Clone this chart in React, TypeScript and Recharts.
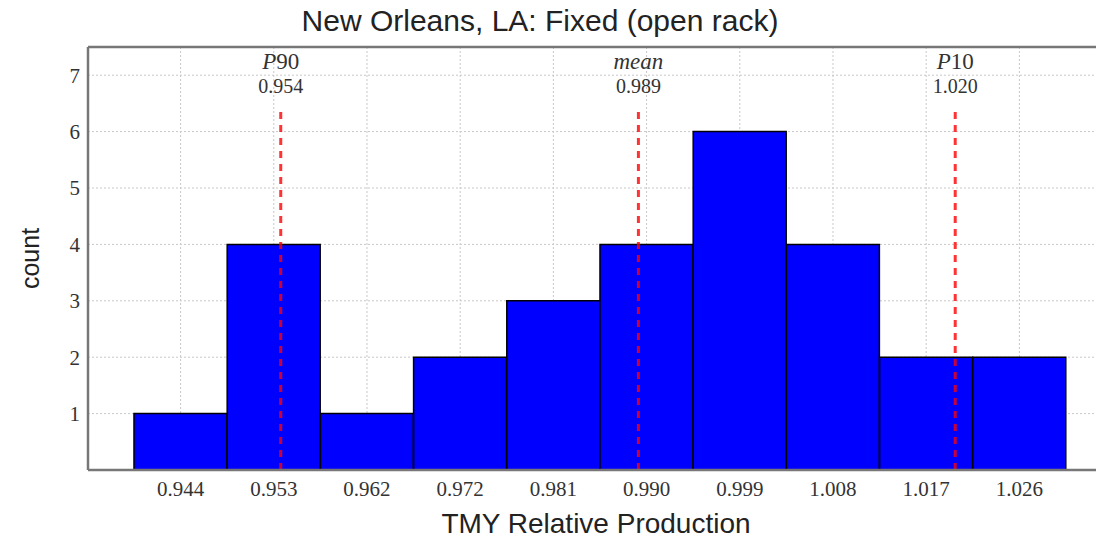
import React from "react";
import {
  ComposedChart,
  Bar,
  XAxis,
  YAxis,
  CartesianGrid,
  ReferenceLine,
  Label,
} from "recharts";

// histogram of TMY relative production, one entry per bin (bin centres)
const binCenters = [
  0.9442, 0.95332, 0.96244, 0.97156, 0.98068,
  0.9898, 0.99892, 1.00804, 1.01716, 1.02628,
];
const counts = [1, 4, 1, 2, 3, 4, 6, 4, 2, 2];
const yTicks = [1, 2, 3, 4, 5, 6, 7];

// P90 / mean / P10 markers
const markerNames = ["P90", "mean", "P10"];
const markerValues = [0.954, 0.989, 1.02];
const markerTop = 6.4;

// value range spanned by the plot area
const valueDomain: [number, number] = [0.93514, 1.03456];

const data = binCenters.map((center, i) => ({ center, count: counts[i] }));

const serif = "'Liberation Serif', 'DejaVu Serif', serif";
const sans = "'Liberation Sans', Arial, sans-serif";

function MarkerLabel({ viewBox, name, value }: any) {
  const x = viewBox.x + (viewBox.width || 0) / 2;
  const y = viewBox.y;
  return (
    <g fontFamily={serif} fill="#333" textAnchor="middle">
      <text x={x} y={y - 40} fontSize={23}>
        {name === "mean" ? (
          <tspan fontStyle="italic">mean</tspan>
        ) : (
          <>
            <tspan fontStyle="italic">{name[0]}</tspan>
            <tspan>{name.slice(1)}</tspan>
          </>
        )}
      </text>
      <text x={x} y={y - 16} fontSize={20}>
        {value.toFixed(3)}
      </text>
    </g>
  );
}

export default function App() {
  return (
    <div style={{ position: "relative", width: 1096, height: 531 }}>
      <div
        style={{
          position: "absolute",
          left: 0,
          top: -7,
          width: 1064,
          textAlign: "center",
          fontFamily: sans,
          fontSize: 30,
          color: "#222",
          lineHeight: "40px",
        }}
      >
        New Orleans, LA: Fixed (open rack)
      </div>
      <ComposedChart
        width={1096}
        height={531}
        data={data}
        margin={{ top: 39, right: 0, bottom: 0, left: 0 }}
        barCategoryGap={0}
        barGap={0}
      >
        <CartesianGrid stroke="#c8c8c8" strokeDasharray="2 2" />
        <XAxis
          dataKey="center"
          type="number"
          domain={valueDomain}
          allowDataOverflow
          ticks={binCenters}
          tickFormatter={(v: number) => v.toFixed(3)}
          height={69}
          tickLine={false}
          tickMargin={5}
          axisLine={{ stroke: "#777", strokeWidth: 2.5 }}
          tick={{ fontFamily: serif, fontSize: 21, fill: "#333" }}
          interval={0}
        >
          <Label
            value="TMY Relative Production"
            position="insideBottom"
            offset={6}
            style={{ fontFamily: sans, fontSize: 28, fill: "#222" }}
          />
        </XAxis>
        <YAxis
          width={80}
          domain={[0, 7.5]}
          ticks={yTicks}
          tickLine={false}
          axisLine={{ stroke: "#777", strokeWidth: 2.5 }}
          tick={{ fontFamily: serif, fontSize: 21, fill: "#333" }}
        >
          <Label
            value="count"
            angle={-90}
            position="insideLeft"
            offset={22}
            style={{ fontFamily: sans, fontSize: 25, fill: "#222", textAnchor: "middle" }}
          />
        </YAxis>
        <Bar
          dataKey="count"
          fill="#0000ff"
          stroke="#000"
          strokeWidth={1.5}
          isAnimationActive={false}
        />
        <ReferenceLine y={7.5} stroke="#777" strokeWidth={2.5} />
        {markerValues.map((v, i) => (
          <ReferenceLine
            key={markerNames[i]}
            segment={[
              { x: v, y: 0 },
              { x: v, y: markerTop },
            ]}
            stroke="#ff0000"
            strokeOpacity={0.8}
            strokeWidth={3}
            strokeDasharray="7 6"
            label={(props: any) => (
              <MarkerLabel {...props} name={markerNames[i]} value={v} />
            )}
          />
        ))}
      </ComposedChart>
    </div>
  );
}
